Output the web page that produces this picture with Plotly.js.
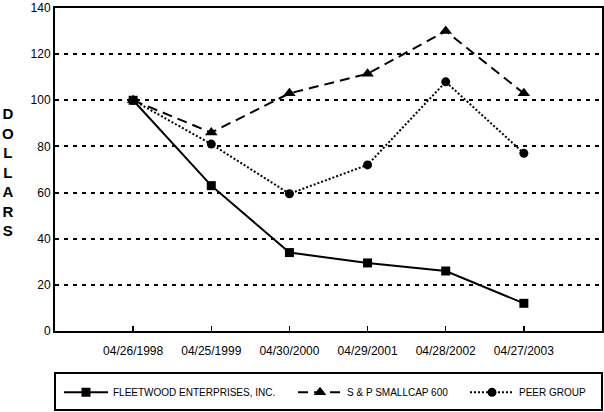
<!DOCTYPE html>
<html>
<head>
<meta charset="utf-8">
<script src="https://cdn.plot.ly/plotly-3.0.1.min.js"></script>
<style>html,body{margin:0;padding:0;background:#fff;}#chart{width:604px;height:412px;}</style>
</head>
<body>
<div id="chart"></div>
<script>
const dates = ["04/26/1998","04/25/1999","04/30/2000","04/29/2001","04/28/2002","04/27/2003"];
const positions = [1,2,3,4,5,6];
const fleetwood = [100, 63, 34, 29.5, 26, 12];
const smallcap = [100, 86, 103, 111.5, 130, 103];
const peer = [100, 81, 59.5, 72, 108, 77];
const yTicks = [0,20,40,60,80,100,120,140];

const font = "Liberation Sans, Arial, sans-serif";
const traces = [
  {x: positions, y: fleetwood, name: "FLEETWOOD ENTERPRISES, INC.", mode: "lines+markers", legend: "legend",
   line: {color: "#000", width: 2, dash: "solid"}, marker: {symbol: "square", size: 9, color: "#000"}},
  {x: positions, y: smallcap, name: "S & P SMALLCAP 600", mode: "lines+markers", legend: "legend2",
   line: {color: "#000", width: 2, dash: "10px,6px"}, marker: {symbol: "triangle-up", size: 11, color: "#000"}},
  {x: positions, y: peer, name: "PEER GROUP", mode: "lines+markers", legend: "legend3",
   line: {color: "#000", width: 2, dash: "2px,2px"}, marker: {symbol: "circle", size: 9, color: "#000"}}
];

function leg(x) {
  return {orientation: "h", x: x, xanchor: "left", y: -0.19, yanchor: "middle", itemwidth: 44,
          font: {family: font, size: 10, color: "#000"}, bgcolor: "rgba(0,0,0,0)", borderwidth: 0};
}

const layout = {
  width: 604, height: 412,
  margin: {l: 55, r: 2, t: 8, b: 81},
  paper_bgcolor: "#fff", plot_bgcolor: "#fff",
  font: {family: font, color: "#000", size: 12},
  showlegend: true,
  legend: leg(0.0073),
  legend2: leg(0.4351),
  legend3: leg(0.7495),
  xaxis: {range: [0, 7], tickvals: positions, ticktext: dates, showgrid: false, zeroline: false,
          showline: true, linecolor: "#000", linewidth: 2, mirror: true,
          ticks: "inside", ticklen: 5, tickwidth: 1.5, tickcolor: "#000",
          tickfont: {family: font, size: 12}, ticklabelstandoff: 8},
  yaxis: {range: [0, 140], tickvals: yTicks, showgrid: true, gridcolor: "#000", gridwidth: 2,
          griddash: "4px,5px", zeroline: false, showline: true, linecolor: "#000", linewidth: 2,
          mirror: true, ticks: "", tickfont: {family: font, size: 12}},
  shapes: [{type: "rect", xref: "paper", yref: "paper", x0: 0, x1: 1, y0: -0.2446, y1: -0.130,
            line: {color: "#000", width: 2}}],
  annotations: [{xref: "paper", yref: "paper", x: -0.0855, y: 0.492, xanchor: "center", yanchor: "middle",
                 text: "D<br>O<br>L<br>L<br>A<br>R<br>S", showarrow: false, align: "center",
                 font: {family: font, size: 15, color: "#000", weight: "bold"}}]
};
Plotly.newPlot("chart", traces, layout, {displayModeBar: false, staticPlot: true});
</script>
</body>
</html>
